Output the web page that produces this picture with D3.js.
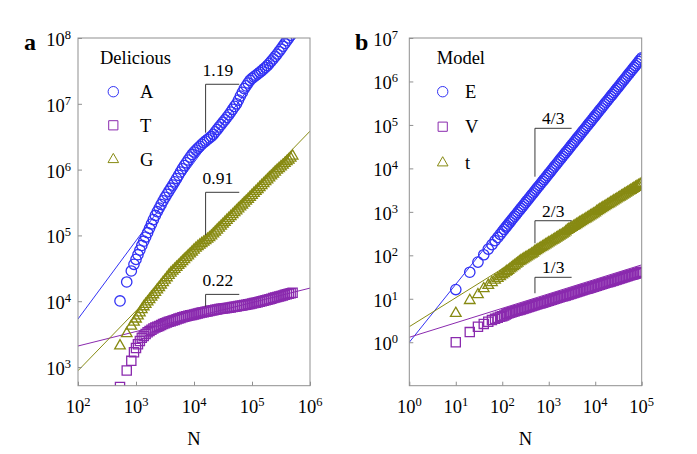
<!DOCTYPE html>
<html><head><meta charset="utf-8">
<script src="https://cdn.jsdelivr.net/npm/d3@7/dist/d3.min.js"></script>
<style>body{margin:0;background:#fff}svg{display:block}text{font-family:"Liberation Serif","Times New Roman",serif;fill:#000}</style>
</head><body>
<svg id="c" width="697" height="454"></svg>
<script>
// ---------- Panel a: Delicious ----------
const nDel = [530,692,830,923,
1000,1080,1166,1259,1359,1468,1585,1711,1848,1995,2154,2326,2512,2712,2929,3162,3415,3687,3981,4299,4642,5012,5412,5843,6310,6813,7356,7943,8577,9261,
10000,10800,11660,12590,13590,14680,15850,17110,18480,19950,21540,23260,25120,27120,29290,31620,34150,36870,39810,42990,46420,50120,54120,58430,63100,68130,73560,79430,85770,92610,
100000,108000,116600,125900,135900,146800,158500,171100,184800,199500,215400,232600,251200,271200,292900,316200,341500,368700,398100,429900,464200,501200];
const delA = [1.01e4,1.96e4,2.88e4,3.64e4,
4.32e4,5.09e4,5.98e4,7.04e4,8.17e4,9.45e4,
1.10e5,1.28e5,1.49e5,1.74e5,2.01e5,2.29e5,2.60e5,2.95e5,3.35e5,3.78e5,
4.21e5,4.69e5,5.22e5,5.82e5,6.52e5,7.31e5,8.18e5,9.20e5,
1.03e6,1.15e6,1.27e6,1.40e6,1.55e6,1.70e6,1.85e6,1.98e6,2.12e6,2.26e6,2.42e6,2.58e6,2.72e6,2.87e6,3.03e6,3.19e6,
3.44e6,3.74e6,4.07e6,4.44e6,4.83e6,5.25e6,5.71e6,6.22e6,6.81e6,7.50e6,8.26e6,9.12e6,
1.00e7,1.14e7,1.31e7,1.49e7,1.70e7,1.87e7,2.07e7,2.28e7,2.44e7,2.57e7,2.70e7,2.84e7,3.00e7,3.18e7,3.38e7,3.58e7,3.82e7,4.12e7,4.46e7,4.82e7,5.25e7,5.71e7,6.24e7,6.81e7,7.50e7,8.26e7,9.10e7,1.00e8,1.10e8,1.22e8];
const delT = [497,885,1240,1680,
1945,2218,2489,2773,2965,3177,3365,3516,3681,3855,
3972,4093,4217,4345,4487,4624,4753,4864,4977,5082,
5200,5321,5445,5559,5689,5808,5902,5998,6095,6194,
6295,6397,6501,6607,6714,6808,6902,6998,7096,7194,
7295,7413,7499,7586,7656,7727,7816,7889,7980,8054,
8147,8222,8318,8433,8531,8630,8730,8851,8954,9057,
9204,9354,9506,9683,9840,10000,10160,10330,10500,10720,
10910,11140,11350,11560,11800,12020,12250,12500,12740,12970,
13210,13460];
const delG = [2140,3290,4270,4900,
5480,6110,6810,7590,8410,9160,9950,10800,11800,12800,
13900,15200,16500,18000,19600,21300,23200,25300,27300,29200,
31200,33400,35700,38200,40800,43800,46800,50000,53500,57100,
61100,65300,69300,72900,76700,80700,84900,89500,94200,100200,
107400,115100,123000,131800,141300,151400,161800,173000,184900,197700,
211300,225900,241500,258800,276700,295800,317000,338800,362200,388200,
415000,444600,476400,509300,545800,584800,625200,668300,714500,765600,
818500,875000,935400,1000000,1059000,1125000,1194000,1268000,1346000,1429000,
1524000,1641000];
// fitted power laws: value = coef * N^exponent
const delFitExp = [1.19, 0.22, 0.91];
const delFitCoef = [22.4, 757, 13.3];
const delLabels = ["A","T","G"];
const delSlopeText = ["1.19","0.91","0.22"];
const delSlopeX = [15850, 60300];
const delSlopeTop = [1.98e7, 4.52e5, 1.27e4];
const delSlopeBottom = [3.64e6, 1.01e5, 8.24e3];

// ---------- Panel b: Model ----------
const nMod = [10,20,30,40,50,60,70,80,90,100,110,120,
126,136,147,158,171,185,200,215,233,251,271,293,316,341,369,398,430,464,501,541,584,631,681,736,794,858,926,
1000,1080,1166,1259,1359,1468,1585,1711,1848,1995,2154,2326,2512,2712,2929,3162,3415,3687,3981,4299,4642,5012,5412,5843,6310,6813,7356,7943,8577,9261,
10000,10800,11660,12590,13590,14680,15850,17110,18480,19950,21540,23260,25120,27120,29290,31620,34150,36870,39810,42990,46420,50120,54120,58430,63100,68130,73560,79430,85770,92610,
100000];
const modE = [16.3,40.8,69.9,103,139,176,218,258,304,350,398,447,
476,528,584,647,717,794,880,975,1080,1196,1325,1468,1626,1801,1995,2210,2448,2712,3004,3328,3687,4084,4524,5012,5552,6150,6813,
7547,8360,9261,10260,11360,12590,13950,15450,17110,18960,21000,23260,25770,28550,31620,35030,38800,42990,47620,52750,58430,64730,71710,79430,87990,97470,108000,119600,132500,146800,
162600,180100,199500,221000,244800,271200,300400,332800,368700,408400,452400,501200,555200,615000,681300,754700,836000,926100,1026000,1136000,1259000,1395000,1545000,1711000,1896000,2100000,2326000,2577000,2855000,3162000,
3503000];
const modV = [1.00,1.71,2.27,2.64,2.97,3.23,3.45,3.65,3.84,3.98,4.15,4.34,
4.52,4.64,4.76,4.89,5.01,5.14,5.28,5.41,5.55,5.70,5.84,6.00,6.15,6.31,6.47,6.64,6.81,6.99,7.17,7.36,7.55,7.74,7.94,8.15,8.36,8.58,8.80,
9.03,9.26,9.50,9.75,10.00,10.26,10.52,10.80,11.08,11.36,11.66,11.96,12.27,12.59,12.92,13.25,13.59,13.95,14.31,14.68,15.06,15.45,15.85,16.26,16.68,17.11,17.56,18.01,18.48,18.96,
19.45,19.95,20.47,21.00,21.54,22.10,22.68,23.26,23.87,24.48,25.12,25.77,26.44,27.12,27.83,28.55,29.29,30.04,30.82,31.62,32.44,33.28,34.15,35.03,35.94,36.87,37.82,38.80,39.81,40.84,
41.90];
const modT = [4.76,9.43,12.8,17.6,21.0,24.4,27.7,30.3,33.6,36.9,39.4,42.3,
44.1,46.4,50.1,52.8,57.0,60.0,64.7,68.1,73.6,77.4,81.5,85.8,90.3,95.0,100,105.2,110.8,116.6,125.9,132.5,139.5,146.8,154.5,162.6,171.1,180.1,189.6,
199.5,210.0,221.0,232.6,244.8,257.7,271.2,285.5,300.4,316.2,332.8,359.4,388.0,408.4,429.9,452.4,476.2,501.2,527.5,555.2,584.3,615.0,647.3,681.3,717.1,754.7,794.3,836.0,879.9,926.1,
974.7,1052,1108,1166,1227,1292,1359,1431,1506,1585,1668,1756,1848,1945,2047,2154,2268,2387,2512,2644,2783,2929,3082,3244,3415,3594,3782,3981,4190,4410,
4642];
const modFitExp = [4/3, 1/3, 2/3];
const modFitCoef = [1.0, 1.30, 2.28];
const modLabels = ["E","V","t"];
const modSlopeText = ["4/3","2/3","1/3"];
const modSlopeX = [505, 3105];
const modSlopeTop = [8.36e4, 625, 31.2];
const modSlopeBottom = [6.44e3, 189, 13.4];

const xTicksDel = [1e2,1e3,1e4,1e5,1e6];
const yTicksDel = [1e3,1e4,1e5,1e6,1e7,1e8];
const xTicksMod = [1e0,1e1,1e2,1e3,1e4,1e5];
const yTicksMod = [1e0,1e1,1e2,1e3,1e4,1e5,1e6,1e7];

// ---------- drawing ----------
const COLORS = ["#3232f4", "#8a2aae", "#878a12"];
const FRAME = "#8f8f8f";
const svg = d3.select("#c");
const defs = svg.append("defs");

function markerPath(shape, cx, cy){
  if (shape === 0) { const r = 5.2; return `M${cx-r},${cy}a${r},${r} 0 1,0 ${2*r},0a${r},${r} 0 1,0 ${-2*r},0Z`; }
  if (shape === 1) { const h = 4.6; return `M${cx-h},${cy-h}H${cx+h}V${cy+h}H${cx-h}Z`; }
  const w = 5.3; return `M${cx},${cy-5.6}L${cx+w},${cy+3.6}L${cx-w},${cy+3.6}Z`;
}

function powLabel(sel, exp){
  sel.append("tspan").text("10");
  sel.append("tspan").attr("dy", -7).attr("font-size", 12.5).text(exp);
}

function drawPanel(cfg){
  const x = d3.scaleLog().domain(cfg.xDom).range([cfg.x0, cfg.x1]);
  const y = d3.scaleLog().domain(cfg.yDom).range([cfg.y1, cfg.y0]);
  const g = svg.append("g");
  defs.append("clipPath").attr("id", cfg.id).append("rect")
    .attr("x", cfg.x0).attr("y", cfg.y0).attr("width", cfg.x1 - cfg.x0).attr("height", cfg.y1 - cfg.y0);
  const plot = g.append("g").attr("clip-path", `url(#${cfg.id})`);

  // fit lines
  cfg.fitExp.forEach((p, i) => {
    const c = cfg.fitCoef[i];
    const pts = cfg.xDom.map(n => [x(n), y(c * Math.pow(n, p))]);
    plot.append("path").attr("d", d3.line()(pts)).attr("fill", "none")
      .attr("stroke", COLORS[i]).attr("stroke-width", 1);
  });
  // markers
  cfg.series.forEach((vals, i) => {
    plot.append("g").selectAll("path").data(vals).join("path")
      .attr("d", (v, j) => markerPath(i, x(cfg.n[j]), y(v)))
      .attr("fill", "none").attr("stroke", COLORS[i]).attr("stroke-width", 1.3);
  });

  // axes (ticks inward)
  const ax = g.append("g").attr("transform", `translate(0,${cfg.y1})`)
    .call(d3.axisBottom(x).tickValues(cfg.xTicks).tickSize(-4).tickFormat(""));
  const ay = g.append("g").attr("transform", `translate(${cfg.x0},0)`)
    .call(d3.axisLeft(y).tickValues(cfg.yTicks).tickSize(-4).tickFormat(""));
  [ax, ay].forEach(a => { a.select(".domain").remove(); a.selectAll("line").attr("stroke", FRAME); });
  g.append("rect").attr("x", cfg.x0).attr("y", cfg.y0).attr("width", cfg.x1 - cfg.x0)
    .attr("height", cfg.y1 - cfg.y0).attr("fill", "none").attr("stroke", FRAME).attr("stroke-width", 1);

  // tick labels
  cfg.xTicks.forEach(t => {
    const tx = g.append("text").attr("x", x(t)).attr("y", 412.5).attr("text-anchor", "middle").attr("font-size", 18.5);
    powLabel(tx, Math.round(Math.log10(t)));
  });
  cfg.yTicks.forEach(t => {
    const ty = g.append("text").attr("x", cfg.yLabelX).attr("y", y(t) + 8).attr("text-anchor", "end").attr("font-size", 18.5);
    powLabel(ty, Math.round(Math.log10(t)));
  });
  g.append("text").attr("x", (cfg.x0 + cfg.x1) / 2).attr("y", 444.5).attr("text-anchor", "middle")
    .attr("font-size", 18.5).text("N");
  g.append("text").attr("x", cfg.tagX).attr("y", 49.5).attr("font-size", 24).attr("font-weight", "bold").text(cfg.tag);

  // slope brackets
  cfg.slopeText.forEach((s, i) => {
    const xa = x(cfg.slopeX[0]), xb = x(cfg.slopeX[1]);
    const yt = y(cfg.slopeTop[i]), yb = y(cfg.slopeBottom[i]);
    g.append("path").attr("d", `M${xa},${yb}V${yt}H${xb}`).attr("fill", "none")
      .attr("stroke", "#3a3a3a").attr("stroke-width", 1);
    g.append("text").attr("x", cfg.slopeAnchor === "start" ? xa - 3 : (xa + xb) / 2)
      .attr("y", yt - cfg.slopeGap).attr("text-anchor", cfg.slopeAnchor)
      .attr("font-size", 17.5).text(s);
  });

  // legend
  g.append("text").attr("x", cfg.legTitleX).attr("y", 64).attr("font-size", 18.5).text(cfg.legTitle);
  cfg.legLabels.forEach((l, i) => {
    const cy = cfg.legY[i];
    g.append("path").attr("d", markerPath(i, cfg.legMarkX, cy)).attr("fill", "none")
      .attr("stroke", COLORS[i]).attr("stroke-width", 1);
    g.append("text").attr("x", cfg.legTextX).attr("y", cy + 6.5).attr("font-size", 18.5).text(l);
  });
}

drawPanel({
  id: "clipA", tag: "a", tagX: 24,
  x0: 78, x1: 310, y0: 38, y1: 385.7,
  xDom: [1e2, 1e6], yDom: [520, 1e8],
  n: nDel, series: [delA, delT, delG],
  fitExp: delFitExp, fitCoef: delFitCoef,
  xTicks: xTicksDel, yTicks: yTicksDel, yLabelX: 71,
  slopeText: delSlopeText, slopeX: delSlopeX, slopeTop: delSlopeTop, slopeBottom: delSlopeBottom,
  slopeAnchor: "start", slopeGap: 8.5,
  legTitle: "Delicious", legTitleX: 100, legLabels: delLabels, legMarkX: 113.3, legTextX: 140,
  legY: [91.7, 125.3, 159]
});
drawPanel({
  id: "clipB", tag: "b", tagX: 355,
  x0: 409.3, x1: 641.7, y0: 38, y1: 385.7,
  xDom: [1e0, 1e5], yDom: [0.1, 1e7],
  n: nMod, series: [modE, modV, modT],
  fitExp: modFitExp, fitCoef: modFitCoef,
  xTicks: xTicksMod, yTicks: yTicksMod, yLabelX: 398,
  slopeText: modSlopeText, slopeX: modSlopeX, slopeTop: modSlopeTop, slopeBottom: modSlopeBottom,
  slopeAnchor: "middle", slopeGap: 4,
  legTitle: "Model", legTitleX: 436.7, legLabels: modLabels, legMarkX: 442.7, legTextX: 465,
  legY: [91.7, 126.7, 162.3]
});
</script>
</body></html>
